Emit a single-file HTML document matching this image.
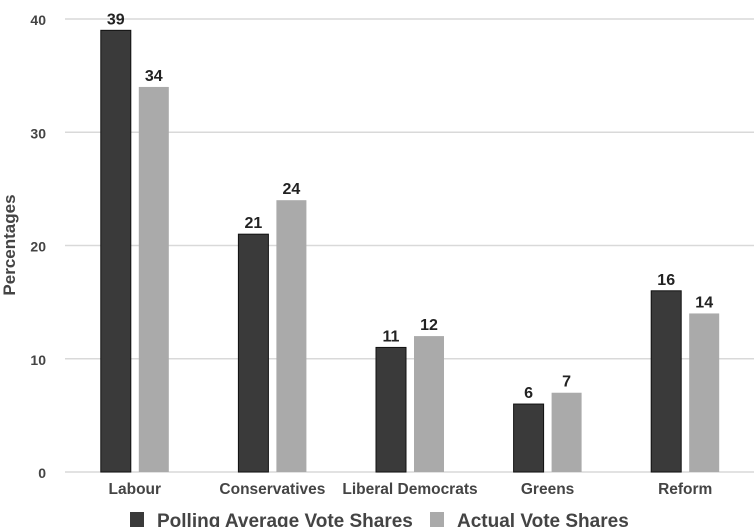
<!DOCTYPE html>
<html><head><meta charset="utf-8"><style>
body{margin:0;background:#fff;width:754px;height:527px;overflow:hidden;font-family:"Liberation Sans",Arial,sans-serif}
</style></head><body>
<svg id="c" width="754" height="527" xmlns="http://www.w3.org/2000/svg"></svg>
<script>
const categories=["Labour","Conservatives","Liberal Democrats","Greens","Reform"];
const polling=[39,21,11,6,16];
const actual=[34,24,12,7,14];
const yTicks=[0,10,20,30,40];
const seriesNames=["Polling Average Vote Shares","Actual Vote Shares"];
const svg=document.getElementById('c');
const NS="http://www.w3.org/2000/svg";
const x0=66,x1=754,y0=472,yTop=19,yMax=40;
const y=v=>y0-(v/yMax)*(y0-yTop);
const band=(x1-x0)/categories.length;
const cx=i=>x0+band*(i+0.5);
function mk(t,a,txt){const e=document.createElementNS(NS,t);for(const k in a)e.setAttribute(k,a[k]);if(txt!=null)e.textContent=txt;svg.appendChild(e);return e;}
yTicks.forEach(t=>{
 const g=mk('line',{x1:x0-1,x2:x1,y1:y(t),y2:y(t),stroke:'#d9d9d9','stroke-width':1.5});
 
 
 const l=mk('text',{x:46,y:y(t)+6,'text-anchor':'end','font-size':14,'font-weight':'bold',fill:'#444'},t);
 
 
});
const yt=mk('text',{x:0,y:0,transform:'translate(15,245) rotate(-90)','text-anchor':'middle','font-size':17,'font-weight':'bold',fill:'#444'},'Percentages');


const bw=30,gap=8;
categories.forEach((c,i)=>{
 const xd=cx(i)-gap/2-bw, xl=cx(i)+gap/2;
 const b1=mk('rect',{x:xd,y:y(polling[i]),width:bw,height:y0-y(polling[i]),fill:'#3a3a3a',stroke:'#111','stroke-width':1});
 
 
 const b2=mk('rect',{x:xl,y:y(actual[i]),width:bw,height:y0-y(actual[i]),fill:'#aaaaaa'});
 
 
 const v1=mk('text',{x:xd+bw/2,y:y(polling[i])-6,'text-anchor':'middle','font-size':16,'font-weight':'bold',fill:'#222'},polling[i]);
 
 
 const v2=mk('text',{x:xl+bw/2,y:y(actual[i])-6,'text-anchor':'middle','font-size':16,'font-weight':'bold',fill:'#222'},actual[i]);
 
 
 const cl=mk('text',{x:cx(i),y:494,'text-anchor':'middle','font-size':15.5,'font-weight':'bold',fill:'#444'},c);
 
 
});
const lg=[[130,'#3a3a3a'],[430,'#aaaaaa']];
lg.forEach((p,i)=>{
 const s=mk('rect',{x:p[0],y:512,width:14,height:15,fill:p[1]});
 
 
 const t=mk('text',{x:p[0]+27,y:527,'font-size':19,'font-weight':'bold',fill:'#444'},seriesNames[i]);
 
 
});
</script>
</body></html>
